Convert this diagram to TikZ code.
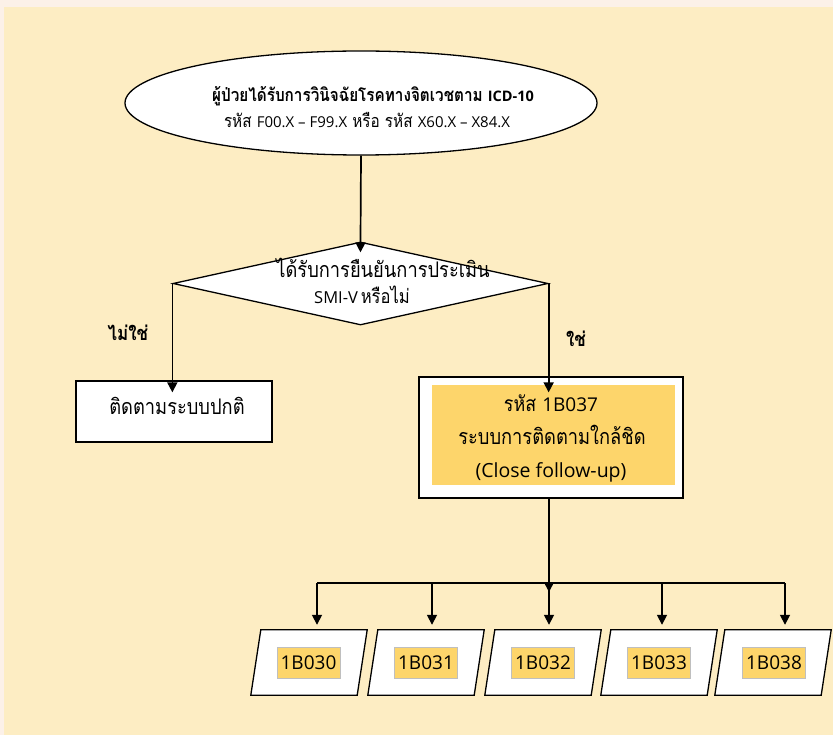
\documentclass[tikz,border=0pt]{standalone}
\usepackage{fontspec}
\setmainfont{Loma}[Script=Thai, FakeStretch=0.85]
\newfontfamily\lat{Open Sans}
\usetikzlibrary{shapes.geometric,arrows.meta}
\definecolor{outerbg}{HTML}{FCF1E8}
\definecolor{innerbg}{HTML}{FDEDC3}
\definecolor{codeyellow}{HTML}{FDD56B}
\newcommand{\fs}[1]{\fontsize{#1}{#1}\selectfont}
\begin{document}
\begin{tikzpicture}[x=1pt,y=-1pt,
  conn/.style={line width=1.7pt, -{Triangle[length=10pt,width=10pt]}},
  plainline/.style={line width=1.7pt},
  shapeline/.style={draw=black, line width=1.3pt, fill=white},
  txt/.style={inner sep=0pt, anchor=base},
  paraframe/.style={rectangle, minimum width=106pt, minimum height=65pt, inner sep=0pt},
  codebox/.style={fill=codeyellow, draw=black!25, line width=0.6pt, minimum width=63pt, minimum height=31pt,
    inner sep=0pt, font=\lat\fs{19}}
]
\fill[outerbg] (0,0) rectangle (833,735);
\fill[innerbg] (4,7) rectangle (833,735);
\useasboundingbox (0,0) rectangle (833,735);

% start ellipse
\node[ellipse, shapeline, minimum width=472pt, minimum height=104pt, inner sep=0pt] (diag) at (361,103) {};
\node[txt, font=\bfseries] (diagA) at (373,102) {\fs{18}ผู้ป่วยได้รับการวินิจฉัยโรคทางจิตเวชตาม {\lat\fs{14.5}ICD-10}};
\node[txt] (diagB) at (367,128) {\fs{18}รหัส {\lat\fs{15}F00.X – F99.X} หรือ รหัส {\lat\fs{15}X60.X – X84.X}};

% decision diamond
\node[diamond, shapeline, minimum width=375pt, minimum height=83pt, inner sep=0pt] (dec) at (360.5,283.5) {};
\node[txt] (decA) at (383,278) {\fs{21.5}ได้รับการยืนยันการประเมิน};
\node[txt] (decB) at (362,304) {{\lat\fs{16.5}SMI-V} \fs{19.5}หรือไม่};

% normal follow-up box
\node[rectangle, shapeline, minimum width=196pt, minimum height=61pt, inner sep=0pt] (normal) at (174,411.5) {};
\node[txt] (normalT) at (177,414) {\fs{21.5}ติดตามระบบปกติ};

% close follow-up box
\node[rectangle, shapeline, minimum width=264pt, minimum height=121pt, inner sep=0pt] (close) at (551,437.5) {};
\node[rectangle, fill=codeyellow, minimum width=243pt, minimum height=100pt, inner sep=0pt] (closeY) at (553.5,435) {};
\node[txt] (closeA) at (551,411) {\fs{21}รหัส {\lat\fs{19}1B037}};
\node[txt] (closeB) at (552,444) {\fs{21.5}ระบบการติดตามใกล้ชิด};
\node[txt] (closeC) at (551,477) {\lat\fs{19.5}(Close follow-up)};

% branch labels
\node[txt, font=\bfseries] (no) at (128,341) {\fs{20}ไม่ใช่};
\node[txt, font=\bfseries] (yes) at (576,347) {\fs{20}ใช่};

% connectors
\draw[conn, shorten >=-11pt] (diag.south) -- (dec.north);
\draw[conn, shorten >=-12pt] (dec.west) -- (dec.west |- normal.north);
\draw[conn, shorten >=-16pt] (dec.east) -- (dec.east |- close.north);

% codes
\foreach \i/\x in {1/309,2/426,3/543,4/659,5/773} {
  \node[paraframe] (p\i) at (\x,662.5) {};
  \draw[shapeline] ([xshift=-5pt]p\i.south west) -- ([xshift=5pt]p\i.north west)
     -- ([xshift=5pt]p\i.north east) -- ([xshift=-5pt]p\i.south east) -- cycle;
}
\node[codebox] (c1) at (308.5,662.5) {1B030};
\node[codebox] (c2) at (426,662.5) {1B031};
\node[codebox] (c3) at (543,662.5) {1B032};
\node[codebox] (c4) at (659,662.5) {1B033};
\node[codebox] (c5) at (774,662.5) {1B038};

\coordinate (b1) at (317,583);
\coordinate (b2) at (432,583);
\coordinate (b3) at (549,583);
\coordinate (b4) at (662,583);
\coordinate (b5) at (785,583);
\draw[conn, shorten >=-9pt] (close.south -| b3) -- (b3);
\draw[plainline] (b1) -- (b5);
\foreach \i in {1,...,5} {
  \draw[conn, shorten >=5pt] (b\i) -- (b\i |- p\i.north);
}
\end{tikzpicture}
\end{document}
